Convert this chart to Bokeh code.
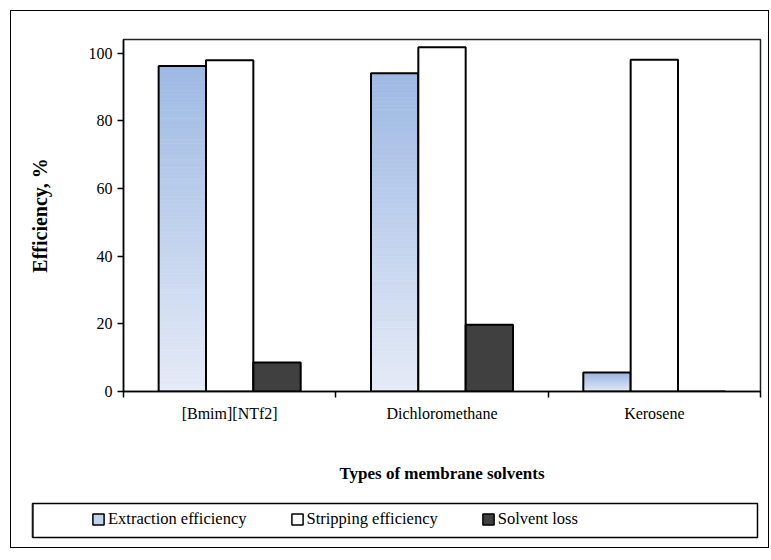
import numpy as np
from bokeh.plotting import figure
from bokeh.layouts import column
from bokeh.models import Range1d, FixedTicker, Legend, LegendItem
from bokeh.embed import file_html
from bokeh.resources import INLINE

# ---- data ----
categories = ["[Bmim][NTf2]", "Dichloromethane", "Kerosene"]
series_names = ["Extraction efficiency", "Stripping efficiency", "Solvent loss"]
extraction = [96.2, 94.0, 5.6]
stripping = [97.9, 101.7, 98.0]
solvent_loss = [8.6, 19.7, 0.0]
y_ticks = [0, 20, 40, 60, 80, 100]

FONT = "Liberation Serif"
BAR_W = 0.223
EXT_TOP = (157, 185, 227)
EXT_BOTTOM = (229, 235, 247)
LOSS_COLOR = "#404040"
x = np.arange(1, len(categories) + 1)

p = figure(width=757, height=486, output_backend="svg", toolbar_location=None,
           x_range=Range1d(0.5, len(categories) + 0.5), y_range=Range1d(0, 104),
           min_border_left=112, min_border_right=8, min_border_top=28,
           min_border_bottom=106)
p.frame_align = False
p.outline_line_color = "#222222"
p.outline_line_width = 1.5
p.xgrid.visible = False
p.ygrid.visible = False
p.background_fill_color = "white"
p.border_fill_color = "white"

# gradient fill for extraction bars (per-bar vertical gradient)
N = 80
top_rgb = np.array(EXT_TOP, dtype=float)
bot_rgb = np.array(EXT_BOTTOM, dtype=float)
gl, gr, gb, gt, gc = [], [], [], [], []
for xi, v in zip(x, extraction):
    for k in range(N):
        f = (k + 0.5) / N
        c = bot_rgb + (top_rgb - bot_rgb) * f
        gl.append(xi - 1.5 * BAR_W)
        gr.append(xi - 0.5 * BAR_W)
        gb.append(v * k / N)
        gt.append(v * (k + 1) / N)
        gc.append("#%02x%02x%02x" % tuple(int(round(t)) for t in c))
p.quad(left=gl, right=gr, bottom=gb, top=gt, fill_color=gc, line_color=gc, line_width=0.6)
p.vbar(x=x - BAR_W, top=extraction, width=BAR_W, fill_alpha=0,
       line_color="black", line_width=2)
p.vbar(x=x, top=stripping, width=BAR_W, fill_color="white",
       line_color="black", line_width=2)
p.vbar(x=x + BAR_W, top=solvent_loss, width=BAR_W, fill_color=LOSS_COLOR,
       line_color="black", line_width=2)

# axes
p.xaxis.ticker = FixedTicker(ticks=[int(i) for i in x],
                             minor_ticks=[i - 0.5 for i in range(1, len(categories) + 2)])
p.xaxis.major_label_overrides = {int(i): c for i, c in zip(x, categories)}
p.xaxis.major_tick_out = 0
p.xaxis.major_tick_in = 0
p.xaxis.minor_tick_out = 6
p.xaxis.minor_tick_in = 0
p.xaxis.major_label_standoff = 7
p.xaxis.axis_label = "Types of membrane solvents"
p.xaxis.axis_label_standoff = 39

p.yaxis.ticker = FixedTicker(ticks=y_ticks)
p.yaxis.major_tick_out = 6
p.yaxis.major_tick_in = 0
p.yaxis.minor_tick_out = 0
p.yaxis.minor_tick_in = 0
p.yaxis.major_label_standoff = 5
p.yaxis.axis_label = "Efficiency, %"
p.yaxis.axis_label_standoff = 35

for ax in (p.xaxis[0], p.yaxis[0]):
    ax.axis_line_color = "black"
    ax.axis_line_width = 1.5
    ax.major_tick_line_color = "black"
    ax.major_tick_line_width = 1.5
    ax.minor_tick_line_color = "black"
    ax.minor_tick_line_width = 1.5
    ax.major_label_text_font = FONT
    ax.major_label_text_font_size = "16px"
    ax.major_label_text_color = "black"
    ax.axis_label_text_font = FONT
    ax.axis_label_text_font_size = "17px"
    ax.axis_label_text_font_style = "bold"
    ax.axis_label_text_color = "black"
p.yaxis.axis_label_text_font_size = "20px"

# ---- legend strip (its frame is the legend box) ----
leg = figure(width=757, height=50, output_backend="svg", toolbar_location=None,
             x_range=Range1d(0, 1), y_range=Range1d(0, 1),
             x_axis_location=None, y_axis_location=None,
             min_border_left=21, min_border_right=11, min_border_top=6,
             min_border_bottom=10)
leg.frame_align = False
leg.xgrid.visible = False
leg.ygrid.visible = False
leg.outline_line_color = "black"
leg.outline_line_width = 1.5
leg.border_fill_color = "white"
ext_swatch = "#%02x%02x%02x" % tuple(int(round((a + b) / 2)) for a, b in zip(EXT_TOP, EXT_BOTTOM))
# legend-only renderers: one point each, placed outside the visible range
r1 = leg.vbar(x=[-5], top=[1], width=0.1, fill_color=ext_swatch, line_color="black", line_width=1.5)
r2 = leg.vbar(x=[-5], top=[1], width=0.1, fill_color="white", line_color="black", line_width=1.5)
r3 = leg.vbar(x=[-5], top=[1], width=0.1, fill_color=LOSS_COLOR, line_color="black", line_width=1.5)
legend = Legend(items=[LegendItem(label=n, renderers=[r]) for n, r in
                       zip(series_names, [r1, r2, r3])],
                location=(59, 8), orientation="horizontal", padding=0,
                spacing=43, glyph_width=14, glyph_height=14, label_standoff=3,
                label_height=18, margin=0, border_line_alpha=0,
                background_fill_alpha=0, label_text_font=FONT,
                label_text_font_size="16.5px", label_text_color="black")
leg.add_layout(legend, "center")

layout = column(p, leg, spacing=0,
                styles={"border": "1.5px solid #000000", "margin": "10px 0px 0px 10px"})

open("out.html", "w").write(file_html(layout, INLINE))
